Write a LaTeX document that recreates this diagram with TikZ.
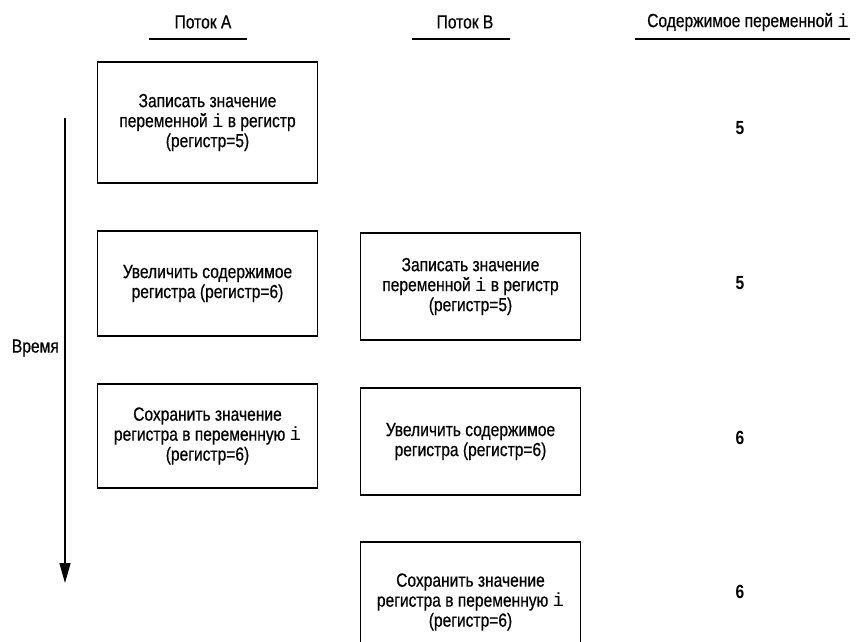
\documentclass[tikz,border=0pt]{standalone}
\usepackage{fontspec}
\setmainfont{Liberation Sans}[FakeStretch=0.82,UprightFeatures={FakeBold=0.5}]
\setmonofont{Liberation Mono}
\usetikzlibrary{arrows.meta}
\newcommand{\colA}{207.5}
\newcommand{\colB}{470.5}
\newcommand{\colV}{740}
\newcommand{\bxW}{220}
\newcommand{\vi}{\texttt{i}}
\tikzset{
  opbox/.style ={draw=black,line width=1.2pt,minimum width=\bxW pt,minimum height=107pt,
                 align=center,inner sep=0pt,font=\fontsize{19}{20}\selectfont},
  hdr/.style   ={inner sep=0pt,font=\fontsize{19}{20}\selectfont},
  hline/.style ={line width=1.4pt},
  val/.style   ={inner sep=0pt,font=\fontsize{19}{20}\selectfont\bfseries},
  tarr/.style  ={line width=1.4pt,-{Triangle[length=20pt,width=11pt]}},
}

\begin{document}
\begin{tikzpicture}[x=1pt,y=-1pt]
  \useasboundingbox (0,0) rectangle (859,641);
  % headers
  \node[hdr] (hA) at (203,22) {Поток А};
  \node[hdr] (hB) at (465,22) {Поток В};
  \node[hdr] (hV) at (748,22) {Содержимое переменной \vi};
  \draw[hline] (149,39) -- (247,39);
  \draw[hline] (412,39) -- (510,39);
  \draw[hline] (635,39) -- (850,39);
  % thread A
  \node[opbox,minimum height=121pt] (a1) at (\colA,122.5) {Записать значение\\переменной \vi{} в регистр\\(регистр=5)};
  \node[opbox,minimum height=105pt] (a2) at (\colA,283.5) {Увеличить содержимое\\регистра (регистр=6)};
  \node[opbox,minimum height=104pt] (a3) at (\colA,436) {Сохранить значение\\регистра в переменную \vi\\(регистр=6)};
  % thread B
  \node[opbox] (b1) at (\colB,286.5) {Записать значение\\переменной \vi{} в регистр\\(регистр=5)};
  \node[opbox] (b2) at (\colB,441.5) {Увеличить содержимое\\регистра (регистр=6)};
  \node[opbox,minimum height=120pt] (b3) at (\colB,602) {Сохранить значение\\регистра в переменную \vi\\(регистр=6)};
  % values of i
  \node[val] (v1) at (\colV,128) {5};
  \node[val] (v2) at (\colV,283) {5};
  \node[val] (v3) at (\colV,438) {6};
  \node[val] (v4) at (\colV,592) {6};
  % time axis
  \coordinate (t0) at (65,118);
  \coordinate (t1) at (65,583);
  \draw[tarr] (t0) -- (t1);
  \node[hdr,anchor=east] (tlab) at (59,348) {Время};
\end{tikzpicture}
\end{document}
